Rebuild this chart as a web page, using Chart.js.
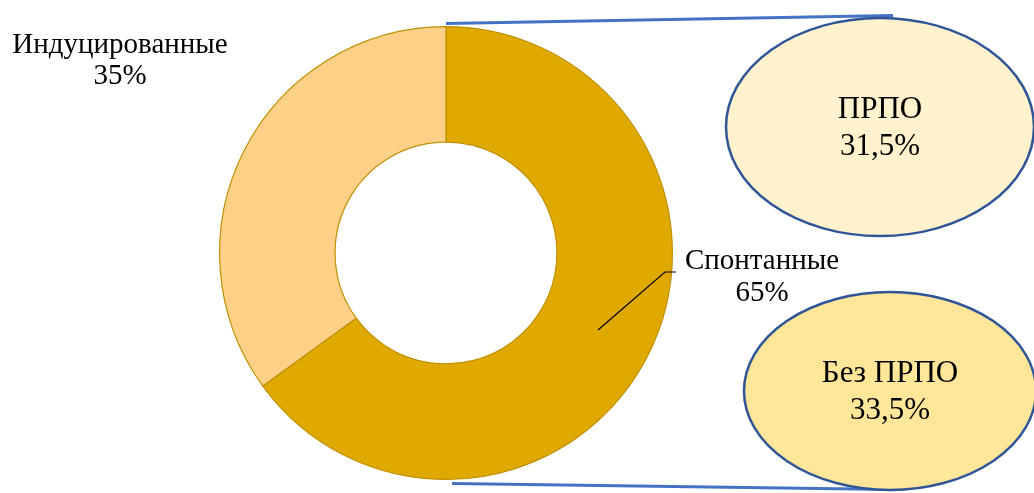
<!DOCTYPE html>
<html>
<head>
<meta charset="utf-8">
<script src="https://cdn.jsdelivr.net/npm/chart.js@4"></script>
<style>
  html, body { margin: 0; padding: 0; background: #fff; }
  #wrap { width: 1034px; height: 493px; position: relative; }
</style>
</head>
<body>
<div id="wrap"><canvas id="birthChart"></canvas></div>
<script>
const categories = ["Спонтанные", "Индуцированные"];
const values = [65, 35];
const colors = ["#E0A900", "#FDD088"];

// breakdown of the "Спонтанные" slice
const subCategories = ["ПРПО", "Без ПРПО"];
const subValues = [31.5, 33.5];
const subColors = ["#FFF2CC", "#FFE699"];

const fmt = v => String(v).replace(".", ",") + "%";
const serif = "'Liberation Serif', 'Times New Roman', serif";

const annotations = {
    id: "annotations",
    afterDatasetsDraw(chart) {
        const c = chart.ctx;
        const arc = chart.getDatasetMeta(0).data[0];
        const cx = arc.x, cy = arc.y, r = arc.outerRadius;

        c.save();

        // blue connector lines from the spontaneous slice to the breakdown
        c.strokeStyle = "#4472C4";
        c.lineWidth = 3;
        c.beginPath();
        c.moveTo(cx, cy - r - 3);
        c.lineTo(cx + 447, cy - r - 11);
        c.moveTo(cx + 6, cy + r + 4);
        c.lineTo(cx + 447, cy + r + 10);
        c.stroke();

        // breakdown ellipses
        const ell = [
            { x: cx + 434, y: cy - 126, rx: 154, ry: 109 },
            { x: cx + 444, y: cy + 138, rx: 146, ry: 99 }
        ];
        subCategories.forEach((name, i) => {
            const e = ell[i];
            c.beginPath();
            c.ellipse(e.x, e.y, e.rx, e.ry, 0, 0, Math.PI * 2);
            c.fillStyle = subColors[i];
            c.fill();
            c.strokeStyle = "#2F5597";
            c.lineWidth = 2.5;
            c.stroke();

            c.fillStyle = "#000";
            c.font = "31px " + serif;
            c.textAlign = "center";
            c.textBaseline = "middle";
            c.fillText(name, e.x, e.y - 17);
            c.fillText(fmt(subValues[i]), e.x, e.y + 20);
        });

        // slice labels
        c.font = "29px " + serif;
        c.fillStyle = "#000";
        c.textAlign = "center";
        c.textBaseline = "middle";
        c.fillText(categories[1], cx - 326, cy - 208);
        c.fillText(fmt(values[1]), cx - 326, cy - 177);
        c.fillText(categories[0], cx + 316, cy + 8);
        c.fillText(fmt(values[0]), cx + 316, cy + 40);

        // leader line for "Спонтанные"
        c.strokeStyle = "#000";
        c.lineWidth = 1.2;
        c.beginPath();
        c.moveTo(cx + 152, cy + 77);
        c.lineTo(cx + 219, cy + 19);
        c.lineTo(cx + 230, cy + 19);
        c.stroke();

        c.restore();
    }
};

new Chart(document.getElementById("birthChart"), {
    type: "doughnut",
    data: {
        labels: categories,
        datasets: [{
            data: values,
            backgroundColor: colors,
            borderColor: "#BF9000",
            borderWidth: 1.2
        }]
    },
    options: {
        responsive: true,
        maintainAspectRatio: false,
        animation: false,
        cutout: "49%",
        layout: { padding: { left: 219, right: 361, top: 26, bottom: 13 } },
        plugins: {
            legend: { display: false },
            tooltip: { enabled: false }
        }
    },
    plugins: [annotations]
});
</script>
</body>
</html>
